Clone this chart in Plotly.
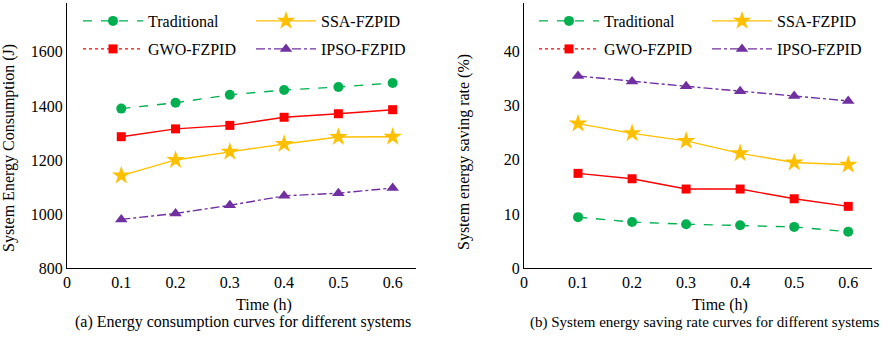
import plotly.graph_objects as go

time_h = [0.1, 0.2, 0.3, 0.4, 0.5, 0.6]
x_tick_vals = [0, 0.1, 0.2, 0.3, 0.4, 0.5, 0.6]
x_tick_text = ["0", "0.1", "0.2", "0.3", "0.4", "0.5", "0.6"]

series_names = ["Traditional", "SSA-FZPID", "GWO-FZPID", "IPSO-FZPID"]

energy_traditional = [1390, 1412, 1441, 1459, 1470, 1485]
energy_ssa = [1142, 1200, 1230, 1259, 1285, 1286]
energy_gwo = [1286, 1315, 1328, 1358, 1371, 1386]
energy_ipso = [980, 1002, 1032, 1067, 1077, 1096]

saving_traditional = [9.4, 8.5, 8.1, 7.9, 7.6, 6.7]
saving_ssa = [26.7, 24.9, 23.5, 21.2, 19.5, 19.1]
saving_gwo = [17.5, 16.5, 14.6, 14.6, 12.8, 11.4]
saving_ipso = [35.5, 34.5, 33.6, 32.7, 31.8, 30.9]

GREEN = "#00b050"
GOLD = "#ffc000"
RED = "#ff0000"
PURPLE = "#7030a0"

styles = {
    "Traditional": dict(color=GREEN, dash="dash", symbol="circle", size=10, ldash="dash"),
    "SSA-FZPID": dict(color=GOLD, dash="solid", symbol="star", size=14, ldash="solid"),
    "GWO-FZPID": dict(color=RED, dash="solid", symbol="square", size=9, ldash="dot"),
    "IPSO-FZPID": dict(color=PURPLE, dash="dashdot", symbol="triangle-up", size=11, ldash="dashdot"),
}

W, H = 892, 338
FONT = "Liberation Serif, Times New Roman, serif"

fig = go.Figure()

left_data = dict(zip(series_names, [energy_traditional, energy_ssa, energy_gwo, energy_ipso]))
right_data = dict(zip(series_names, [saving_traditional, saving_ssa, saving_gwo, saving_ipso]))

for panel, data, xa, ya in [(0, left_data, "x", "y"), (1, right_data, "x2", "y2")]:
    for name in series_names:
        s = styles[name]
        fig.add_trace(go.Scatter(
            x=time_h, y=data[name], mode="lines+markers", name=name,
            xaxis=xa, yaxis=ya, showlegend=False,
            line=dict(color=s["color"], width=1.4, dash=s["dash"]),
            marker=dict(color=s["color"], symbol=s["symbol"], size=s["size"], line=dict(width=0)),
        ))

# legend positions (pixels): column line starts and row centers
col_starts = {0: [83, 256], 1: [539, 712]}
row_y = [21, 49]
legend_layout = {}
idx = 1
for panel in (0, 1):
    for i, name in enumerate(series_names):
        s = styles[name]
        row = i // 2
        col = i % 2
        lname = "legend" if idx == 1 else f"legend{idx}"
        fig.add_trace(go.Scatter(
            x=[None], y=[None], mode="lines+markers", name=name,
            xaxis="x" if panel == 0 else "x2", yaxis="y" if panel == 0 else "y2",
            showlegend=True, legend=lname,
            line=dict(color=s["color"], width=1.4, dash=s["ldash"]),
            marker=dict(color=s["color"], symbol=s["symbol"], size=s["size"], line=dict(width=0)),
        ))
        legend_layout[lname] = dict(
            x=(col_starts[panel][col] - 5) / W, y=(H - row_y[row]) / H,
            xanchor="left", yanchor="middle", bgcolor="rgba(0,0,0,0)",
            font=dict(family=FONT, size=16, color="black"), itemwidth=60,
        )
        idx += 1

axis_common = dict(
    showline=True, linecolor="black", linewidth=1, showgrid=False, zeroline=False,
    ticks="", tickfont=dict(family=FONT, size=16, color="black"), mirror=False,
    automargin=False,
)

y_dom = [(H - 268) / H, (H - 3) / H]

fig.update_layout(
    width=W, height=H, margin=dict(l=0, r=0, t=0, b=0),
    paper_bgcolor="white", plot_bgcolor="white",
    font=dict(family=FONT, size=16, color="black"),
    xaxis=dict(domain=[67 / W, 416 / W], range=[0, 0.643], tickvals=x_tick_vals, ticktext=x_tick_text,
               anchor="y", **axis_common),
    yaxis=dict(domain=y_dom, range=[800, 1781], tickvals=[800, 1000, 1200, 1400, 1600],
               anchor="x", **axis_common),
    xaxis2=dict(domain=[524 / W, 872 / W], range=[0, 0.644], tickvals=x_tick_vals, ticktext=x_tick_text,
                anchor="y2", **axis_common),
    yaxis2=dict(domain=y_dom, range=[0, 49], tickvals=[0, 10, 20, 30, 40],
                anchor="x2", **axis_common),
    **legend_layout,
)

ann_font = dict(family=FONT, size=16, color="black")
annotations = [
    dict(text="System Energy Consumption (J)", x=9 / W, y=(H - 148) / H, textangle=-90),
    dict(text="System energy saving rate (%)", x=464 / W, y=(H - 152) / H, textangle=-90),
    dict(text="Time (h)", x=264 / W, y=(H - 305) / H),
    dict(text="Time (h)", x=720 / W, y=(H - 305) / H),
    dict(text="(a) Energy consumption curves for different systems", x=243 / W, y=(H - 322) / H),
]
for a in annotations:
    fig.add_annotation(xref="paper", yref="paper", showarrow=False, xanchor="center", yanchor="middle",
                       font=ann_font, **a)
fig.add_annotation(xref="paper", yref="paper", showarrow=False, xanchor="left", yanchor="middle",
                   text="(b) System energy saving rate curves for different systems",
                   x=528 / W, y=(H - 322) / H, font=dict(family=FONT, size=15, color="black"))

fig.write_html("out.html", config={"displayModeBar": False},
               post_script="document.body.style.margin='0';")
